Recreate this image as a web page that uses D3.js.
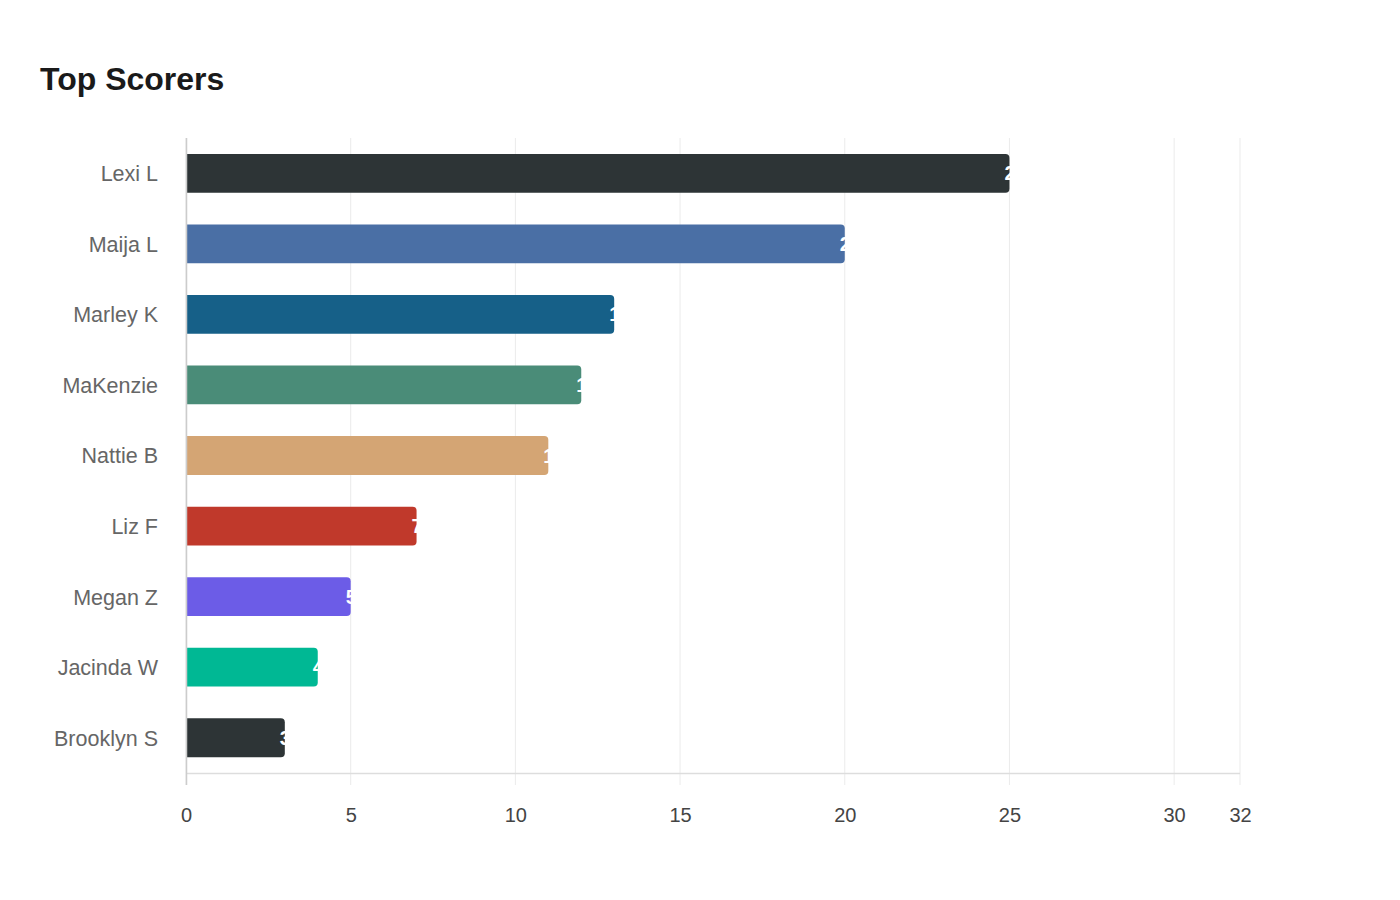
<!DOCTYPE html>
<html>
<head>
<meta charset="utf-8">
<script src="https://cdn.jsdelivr.net/npm/d3@7/dist/d3.min.js"></script>
<style>
  body { margin: 0; background: #fff; font-family: "Liberation Sans", Arial, sans-serif; }
  svg { display: block; }
</style>
</head>
<body>
<svg id="chart" width="1400" height="900"></svg>
<script>
// chart data
var players = ["Lexi L", "Maija L", "Marley K", "MaKenzie", "Nattie B", "Liz F", "Megan Z", "Jacinda W", "Brooklyn S"];
var goals = [25, 20, 13, 12, 11, 7, 5, 4, 3];
var barColors = ["#2d3436", "#4a6fa5", "#166088", "#4a8c78", "#d4a574", "#c0392b", "#6c5ce7", "#00b894", "#2d3436"];
var xTicks = [0, 5, 10, 15, 20, 25, 30, 32];

var svg = d3.select("#chart");

var plotLeft = 186, plotRight = 1240, plotTop = 138, plotBottom = 773;

var xScale = d3.scaleLinear()
    .domain([0, 32])
    .range([plotLeft, plotRight]);

var yScale = d3.scaleBand()
    .domain(players)
    .range([plotTop, plotBottom])
    .paddingInner(0.45)
    .paddingOuter(0.225);

svg.append("text")
    .attr("x", 40)
    .attr("y", 90)
    .style("font-size", "32px")
    .style("font-weight", "bold")
    .style("fill", "#1a1a1a")
    .text("Top Scorers");

// vertical grid lines
svg.append("g")
    .selectAll("line")
    .data(xTicks)
    .enter().append("line")
    .attr("x1", function(d) { return xScale(d); })
    .attr("x2", function(d) { return xScale(d); })
    .attr("y1", plotTop)
    .attr("y2", plotBottom + 12)
    .style("stroke", "#ebebeb")
    .style("stroke-width", 1);

// x axis baseline
svg.append("line")
    .attr("x1", plotLeft)
    .attr("x2", plotRight)
    .attr("y1", plotBottom + 0.5)
    .attr("y2", plotBottom + 0.5)
    .style("stroke", "#dddddd")
    .style("stroke-width", 1.5);

var xAxis = d3.axisBottom(xScale)
    .tickValues(xTicks)
    .tickSize(0)
    .tickPadding(0);

var gx = svg.append("g")
    .attr("transform", "translate(0," + (plotBottom + 42) + ")")
    .call(xAxis);
gx.select(".domain").remove();
gx.selectAll("text")
    .attr("dy", "0.35em")
    .style("font-family", "Liberation Sans, Arial, sans-serif")
    .style("font-size", "20px")
    .style("fill", "#444");

// y axis labels
var yAxis = d3.axisLeft(yScale)
    .tickSize(0)
    .tickPadding(28);

var gy = svg.append("g")
    .attr("transform", "translate(" + plotLeft + ",1)")
    .call(yAxis);
gy.select(".domain").remove();
gy.selectAll("text")
    .style("font-family", "Liberation Sans, Arial, sans-serif")
    .style("font-size", "21.5px")
    .style("fill", "#666");

// bars, rounded on the right end only
function barPath(d, i) {
    var x0 = xScale(0), x1 = xScale(d), y0 = yScale(players[i]), h = yScale.bandwidth(), r = 4;
    return "M" + x0 + "," + y0 +
        "H" + (x1 - r) +
        "Q" + x1 + "," + y0 + " " + x1 + "," + (y0 + r) +
        "V" + (y0 + h - r) +
        "Q" + x1 + "," + (y0 + h) + " " + (x1 - r) + "," + (y0 + h) +
        "H" + x0 + "Z";
}

svg.append("g")
    .selectAll("path")
    .data(goals)
    .enter().append("path")
    .attr("d", barPath)
    .style("fill", function(d, i) { return barColors[i]; });

// value labels (white, sitting at the bar end)
svg.append("g")
    .selectAll("text")
    .data(goals)
    .enter().append("text")
    .attr("x", function(d) { return xScale(d) - 5; })
    .attr("y", function(d, i) { return yScale(players[i]) + yScale.bandwidth() / 2; })
    .attr("dy", "0.35em")
    .style("font-size", "20px")
    .style("font-weight", "bold")
    .style("fill", "#fff")
    .text(function(d) { return d; });

// left axis line
svg.append("line")
    .attr("x1", plotLeft + 0.5)
    .attr("x2", plotLeft + 0.5)
    .attr("y1", plotTop)
    .attr("y2", plotBottom + 12)
    .style("stroke", "#cccccc")
    .style("stroke-width", 1.5);
</script>
</body>
</html>
